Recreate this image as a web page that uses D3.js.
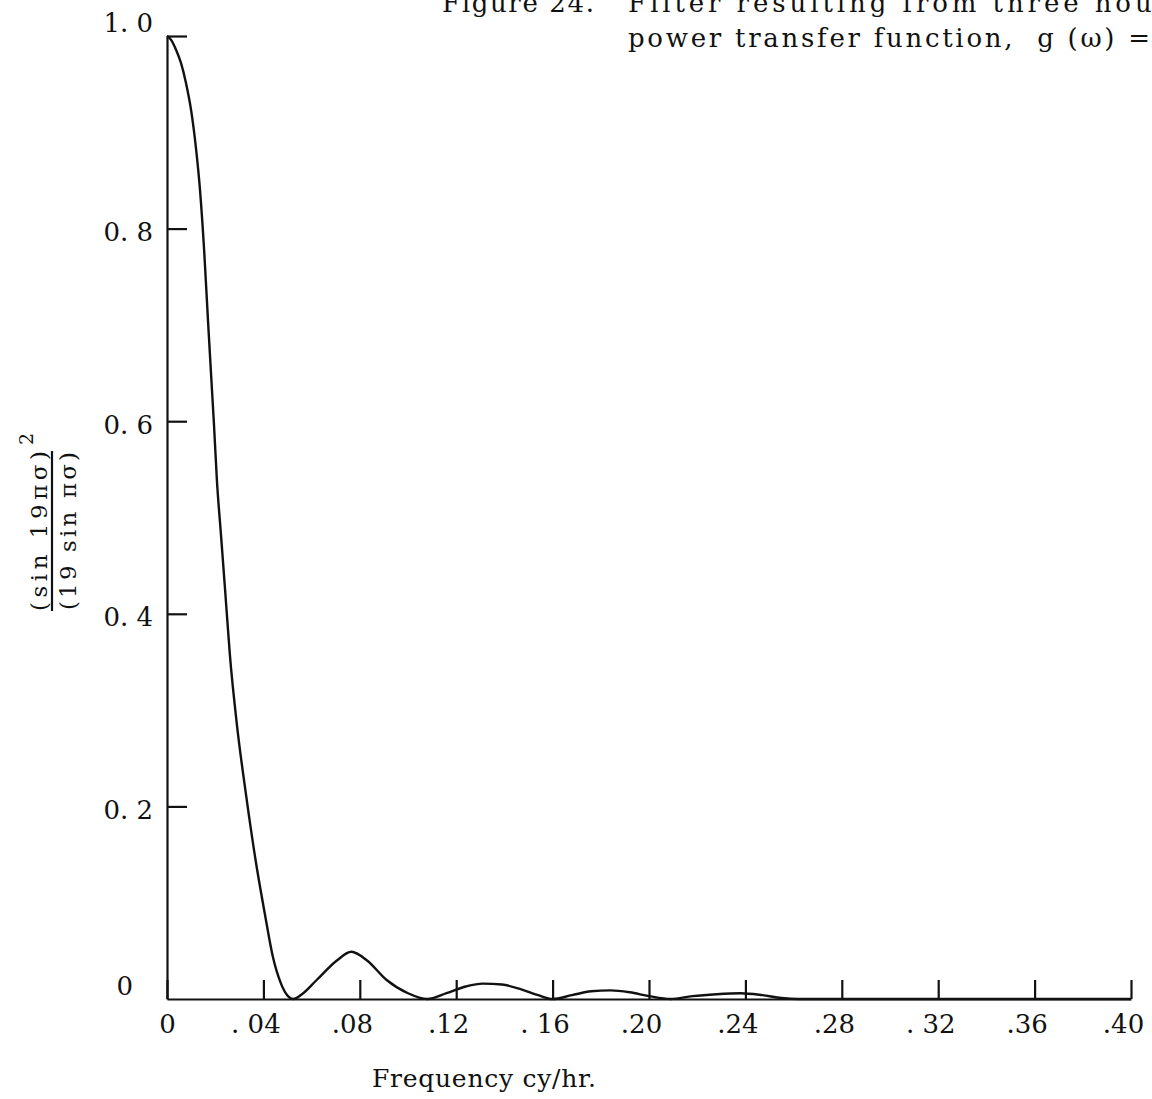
<!DOCTYPE html>
<html>
<head>
<meta charset="utf-8">
<script src="https://cdn.jsdelivr.net/npm/d3@7"></script>
<style>
  html, body { margin: 0; padding: 0; background: #fff; }
  svg { display: block; }
  text { font-family: "DejaVu Serif", "Liberation Serif", serif; fill: #111; }
</style>
</head>
<body>
<svg id="chart" width="1152" height="1099"></svg>
<script>
// Response of the 19-term running mean, read along the frequency axis (cy/hr)
const freq = [0, 0.0017, 0.0037, 0.0058, 0.0079, 0.0100, 0.0120, 0.0137, 0.0154, 0.0170,
  0.0183, 0.0195, 0.0207, 0.0224, 0.0241, 0.0261, 0.0290, 0.0328, 0.0369, 0.0407,
  0.0440, 0.0473, 0.0502, 0.0523,
  0.0560, 0.0622, 0.0705, 0.0765, 0.083, 0.091, 0.1, 0.108,
  0.116, 0.124, 0.131, 0.139, 0.147, 0.154, 0.160,
  0.168, 0.176, 0.184, 0.192, 0.200, 0.209,
  0.218, 0.228, 0.238, 0.247, 0.255, 0.262, 0.28, 0.32, 0.36, 0.40];
const power = [1.0, 0.996, 0.986, 0.972, 0.951, 0.923, 0.884, 0.840, 0.778, 0.705,
  0.648, 0.596, 0.539, 0.482, 0.425, 0.357, 0.285, 0.212, 0.142, 0.087,
  0.043, 0.016, 0.003, 0.0,
  0.005, 0.020, 0.040, 0.049, 0.040, 0.020, 0.006, 0.0,
  0.006, 0.013, 0.016, 0.015, 0.010, 0.004, 0.0,
  0.004, 0.008, 0.009, 0.007, 0.003, 0.0,
  0.003, 0.005, 0.006, 0.004, 0.001, 0.0, 0.0, 0.0, 0.0, 0.0];

const xTicks = [0, 0.04, 0.08, 0.12, 0.16, 0.20, 0.24, 0.28, 0.32, 0.36, 0.40];
const xTickLabels = ["0", ". 04", ".08", ".12", ". 16", ".20", ".24", ".28", ". 32", ".36", ".40"];
const yTicks = [0, 0.2, 0.4, 0.6, 0.8, 1.0];
const yTickLabels = ["0", "0. 2", "0. 4", "0. 6", "0. 8", "1. 0"];

const titleLines = ["Figure 24.", "Filter resulting from three hour", "power transfer function,  g (\u03c9) ="];
const xTitle = "Frequency cy/hr.";
const yNumerator = "(sin 19\u03c0\u03c3)";
const yDenominator = "(19 sin \u03c0\u03c3)";

const svg = d3.select("#chart");
const x = d3.scaleLinear().domain([0, 0.4]).range([167, 1131]);
const y = d3.scaleLinear().domain([0, 1]).range([999, 36]);

// x axis: ticks point up into the plot
const gx = svg.append("g")
  .attr("transform", `translate(0,${y(0)})`)
  .call(d3.axisBottom(x)
    .tickValues(xTicks)
    .tickSizeInner(-19)
    .tickSizeOuter(0)
    .tickFormat((d, i) => xTickLabels[i]));
gx.select(".domain").attr("stroke", "#111").attr("stroke-width", 2.2);
gx.selectAll(".tick line").attr("stroke", "#111").attr("stroke-width", 2.2);
gx.selectAll(".tick text")
  .attr("y", 34).attr("dy", 0)
  .attr("dx", (d, i) => i === 0 ? 0 : -8)
  .attr("font-size", 26)
  .style("font-family", "DejaVu Serif, serif")
  .attr("fill", "#111")
  .attr("xml:space", "preserve");

// y axis: ticks point right into the plot
const gy = svg.append("g")
  .attr("transform", `translate(${x(0)},0)`)
  .call(d3.axisLeft(y)
    .tickValues(yTicks)
    .tickSizeInner(-20)
    .tickSizeOuter(0)
    .tickFormat((d, i) => yTickLabels[i]));
gy.select(".domain").attr("stroke", "#111").attr("stroke-width", 2.2);
gy.selectAll(".tick line").attr("stroke", "#111").attr("stroke-width", 2.2)
  .attr("display", d => d === 0 ? "none" : null);
gy.selectAll(".tick text")
  .attr("x", d => d === 0 ? -34 : -14)
  .attr("dy", d => (d === 0 || d === 1) ? -5 : 12)
  .attr("font-size", 26)
  .style("font-family", "DejaVu Serif, serif")
  .attr("fill", "#111")
  .attr("xml:space", "preserve");

// response curve
const line = d3.line()
  .x((d, i) => x(freq[i]))
  .y(d => y(d))
  .curve(d3.curveMonotoneX);
svg.append("path")
  .datum(power)
  .attr("d", line)
  .attr("fill", "none")
  .attr("stroke", "#111")
  .attr("stroke-width", 2.4)
  .attr("stroke-linejoin", "round");

// heading (runs off the right edge)
svg.append("text").attr("x", 442).attr("y", 12)
  .attr("font-size", 26).attr("textLength", 152).attr("lengthAdjust", "spacing")
  .text(titleLines[0]);
svg.append("text").attr("x", 628).attr("y", 12)
  .attr("font-size", 26).attr("textLength", 540).attr("lengthAdjust", "spacing")
  .text(titleLines[1]);
svg.append("text").attr("x", 628).attr("y", 47)
  .attr("font-size", 26).attr("textLength", 522).attr("lengthAdjust", "spacing")
  .attr("xml:space", "preserve")
  .text(titleLines[2]);

// x axis title
svg.append("text").attr("x", 372).attr("y", 1087)
  .attr("font-size", 25).attr("textLength", 224).attr("lengthAdjust", "spacing")
  .text(xTitle);

// y axis title: squared ratio written as a fraction, rotated
const gLabel = svg.append("g").attr("transform", "translate(52,531) rotate(-90)");
gLabel.append("text").attr("x", 0).attr("y", -5).attr("text-anchor", "middle")
  .attr("font-size", 23).attr("textLength", 160).attr("lengthAdjust", "spacing")
  .text(yNumerator);
gLabel.append("text").attr("x", 92).attr("y", -19).attr("text-anchor", "middle")
  .attr("font-size", 19).text("2");
gLabel.append("line").attr("x1", -80).attr("x2", 80).attr("y1", 0).attr("y2", 0)
  .attr("stroke", "#111").attr("stroke-width", 2.2);
gLabel.append("text").attr("x", 0).attr("y", 24).attr("text-anchor", "middle")
  .attr("font-size", 23).attr("textLength", 158).attr("lengthAdjust", "spacing")
  .text(yDenominator);
</script>
</body>
</html>
